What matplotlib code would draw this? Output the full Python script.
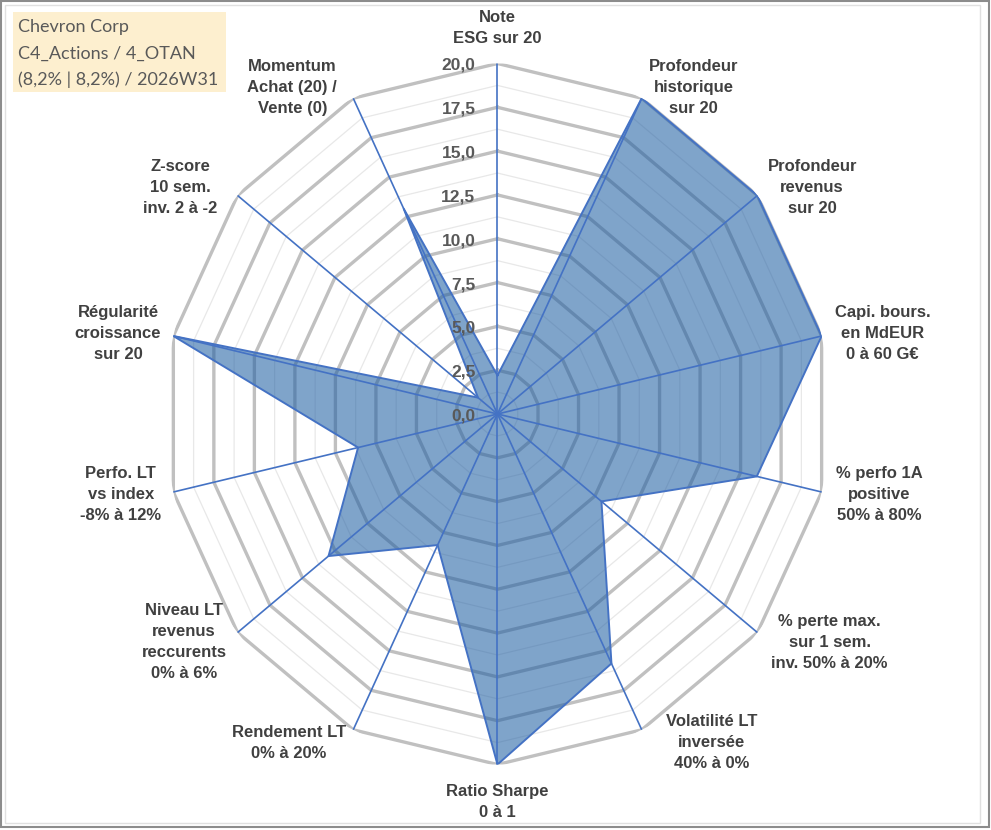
import numpy as np
import matplotlib.pyplot as plt
from matplotlib.patches import Rectangle

# radar categories (clockwise from top) and scores on 20
labels = ['Note\nESG sur 20',
          'Profondeur\nhistorique\nsur 20',
          'Profondeur\nrevenus\nsur 20',
          'Capi. bours.\nen MdEUR\n0 à 60 G€',
          '% perfo 1A\npositive\n50% à 80%',
          '% perte max.\nsur 1 sem.\ninv. 50% à 20%',
          'Volatilité LT\ninversée\n40% à 0%',
          'Ratio Sharpe\n0 à 1',
          'Rendement LT\n0% à 20%',
          'Niveau LT\nrevenus\nreccurents\n0% à 6%',
          'Perfo. LT\nvs index\n-8% à 12%',
          'Régularité\ncroissance\nsur 20',
          'Z-score\n10 sem.\ninv. 2 à -2',
          'Momentum\nAchat (20) /\nVente (0)']
scores = [2.2, 20, 20, 20, 16.0, 8.0, 15.8, 20, 8.3, 13.0, 8.6, 20, 1.5, 13.0]
major_ticks = [0, 2.5, 5, 7.5, 10, 12.5, 15, 17.5, 20]
tick_labels = ['0,0', '2,5', '5,0', '7,5', '10,0', '12,5', '15,0', '17,5', '20,0']
title_lines = ['Chevron Corp', 'C4_Actions / 4_OTAN', '(8,2% | 8,2%) / 2026W31']

# small horizontal nudges (px) for the label placement
label_nudge = [0, -5, -2, 1, 2, 2, 12, 0, 5, 1, 0, 0, -8, -4]

n = len(labels)
theta = np.arange(n) * 2 * np.pi / n
theta_c = np.append(theta, theta[0])

fig = plt.figure(figsize=(9.91, 8.30), dpi=100)
ax = fig.add_axes([0.1665, 0.0789, 0.671, 0.8446], projection='polar')
ax.set_theta_zero_location('N')
ax.set_theta_direction(-1)
ax.set_ylim(0, 20)
ax.set_aspect('auto')
ax.grid(False)
ax.spines['polar'].set_visible(False)
ax.set_xticks([])
ax.set_yticks([])
ax.patch.set_alpha(0)

# polygon grid: light minor rings and gray major rings
for lv in np.arange(1.25, 20, 2.5):
    ax.plot(theta_c, np.full(n + 1, lv), color='#e8e8e8', lw=0.9, zorder=1)
for lv in major_ticks[1:]:
    ax.plot(theta_c, np.full(n + 1, lv), color='#c0c0c0', lw=2.4, zorder=1)

vals = np.append(scores, scores[0])
ax.fill(theta_c, vals, color='#1f5fa3', alpha=0.57, zorder=2, lw=0)
ax.plot(theta_c, vals, color='#4472c4', lw=1.4, zorder=3)

# spokes
for t in theta:
    ax.plot([t, t], [0, 20], color='#4472c4', lw=1.2, zorder=4)

for v, s in zip(major_ticks, tick_labels):
    ax.annotate(s, xy=(0, v), xytext=(-22, -2), textcoords='offset pixels',
                ha='right', va='center', fontsize=12.5, fontweight='bold',
                color='#595959', family='Liberation Sans', zorder=5)

# category labels next to the outer vertex, Excel style
for t, lab, nx in zip(theta, labels, label_nudge):
    s, c = np.sin(t), np.cos(t)
    if abs(s) < 1e-6:
        ha = 'center'
        va = 'bottom' if c > 0 else 'top'
        off = (nx, 17 if c > 0 else -19)
    else:
        ha = 'left' if s > 0 else 'right'
        va = 'center'
        off = ((12 if s > 0 else -12) + nx, 12 * c - (2 if c < -0.5 else 0))
    ax.annotate(lab, xy=(t, 20), xytext=off, textcoords='offset pixels',
                ha=ha, va=va, multialignment='center',
                fontsize=12, fontweight='bold', color='#404040',
                family='Liberation Sans', linespacing=1.5)

# title box top-left
W, H = 991, 830
fig.patches.append(Rectangle((13 / W, 1 - 92 / H), 213 / W, 80 / H,
                             transform=fig.transFigure, facecolor='#fdefcf',
                             edgecolor='none', zorder=0))
for i, line in enumerate(title_lines):
    fig.text(18 / W, 1 - (27 + 26.5 * i) / H, line, ha='left', va='center',
             fontsize=13, color='#595959', family='Lato')

# frames
fig.patches.append(Rectangle((1 / W, 3 / H), 988 / W, 826 / H,
                             transform=fig.transFigure, fill=False,
                             edgecolor='#8c8c8c', lw=1.5))
fig.patches.append(Rectangle((5 / W, 7 / H), 975 / W, 818 / H,
                             transform=fig.transFigure, fill=False,
                             edgecolor='#e0e0e0', lw=1))

fig.savefig('out.png', dpi=100)
